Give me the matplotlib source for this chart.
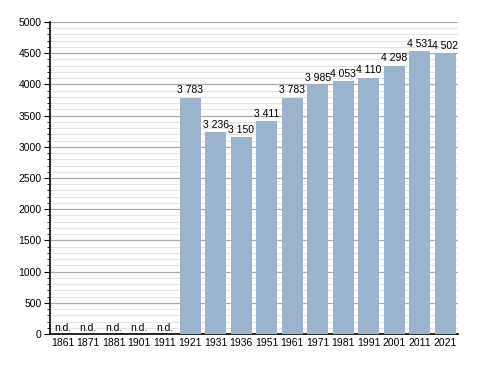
import matplotlib.pyplot as plt
from matplotlib.ticker import MultipleLocator

plt.rcParams['font.family'] = ['Liberation Sans', 'DejaVu Sans']

anni = ['1861', '1871', '1881', '1901', '1911', '1921', '1931', '1936',
        '1951', '1961', '1971', '1981', '1991', '2001', '2011', '2021']
abitanti = [None, None, None, None, None, 3783, 3236, 3150,
            3411, 3783, 3985, 4053, 4110, 4298, 4531, 4502]


def fmt(v):
    # separatore delle migliaia con spazio
    return '{:,}'.format(v).replace(',', ' ')


fig = plt.figure(figsize=(4.88, 3.73), dpi=100)
ax = fig.add_axes([50 / 488, 39 / 373, 408 / 488, 312 / 373])

x = list(range(len(anni)))
valori = [v if v is not None else 0 for v in abitanti]
ax.bar(x, valori, width=0.82, color='#9bb3cf', zorder=3)

for i, v in enumerate(abitanti):
    if v is None:
        ax.text(i, 15, 'n.d.', ha='center', va='bottom', fontsize=7.5, zorder=4)
    else:
        ax.text(i, v + 40, fmt(v), ha='center', va='bottom', fontsize=7.5, zorder=4)

ax.set_xlim(-0.5, len(anni) - 0.5)
ax.set_ylim(0, 5000)
ax.set_xticks(x)
ax.set_xticklabels(anni, fontsize=7.5)
ax.tick_params(axis='x', length=0, pad=3)

ax.yaxis.set_major_locator(MultipleLocator(500))
ax.yaxis.set_minor_locator(MultipleLocator(100))
ax.tick_params(axis='y', which='major', length=4, labelsize=7.5, pad=2)
ax.tick_params(axis='y', which='minor', length=2)

ax.grid(axis='y', which='major', color='#aaaaaa', linewidth=0.9, zorder=0)
ax.grid(axis='y', which='minor', color='#e3e3e3', linewidth=0.8, zorder=0)

for s in ['top', 'right']:
    ax.spines[s].set_visible(False)
ax.spines['left'].set_linewidth(1.2)
ax.spines['bottom'].set_linewidth(1.2)

fig.savefig('out.png', dpi=100)
